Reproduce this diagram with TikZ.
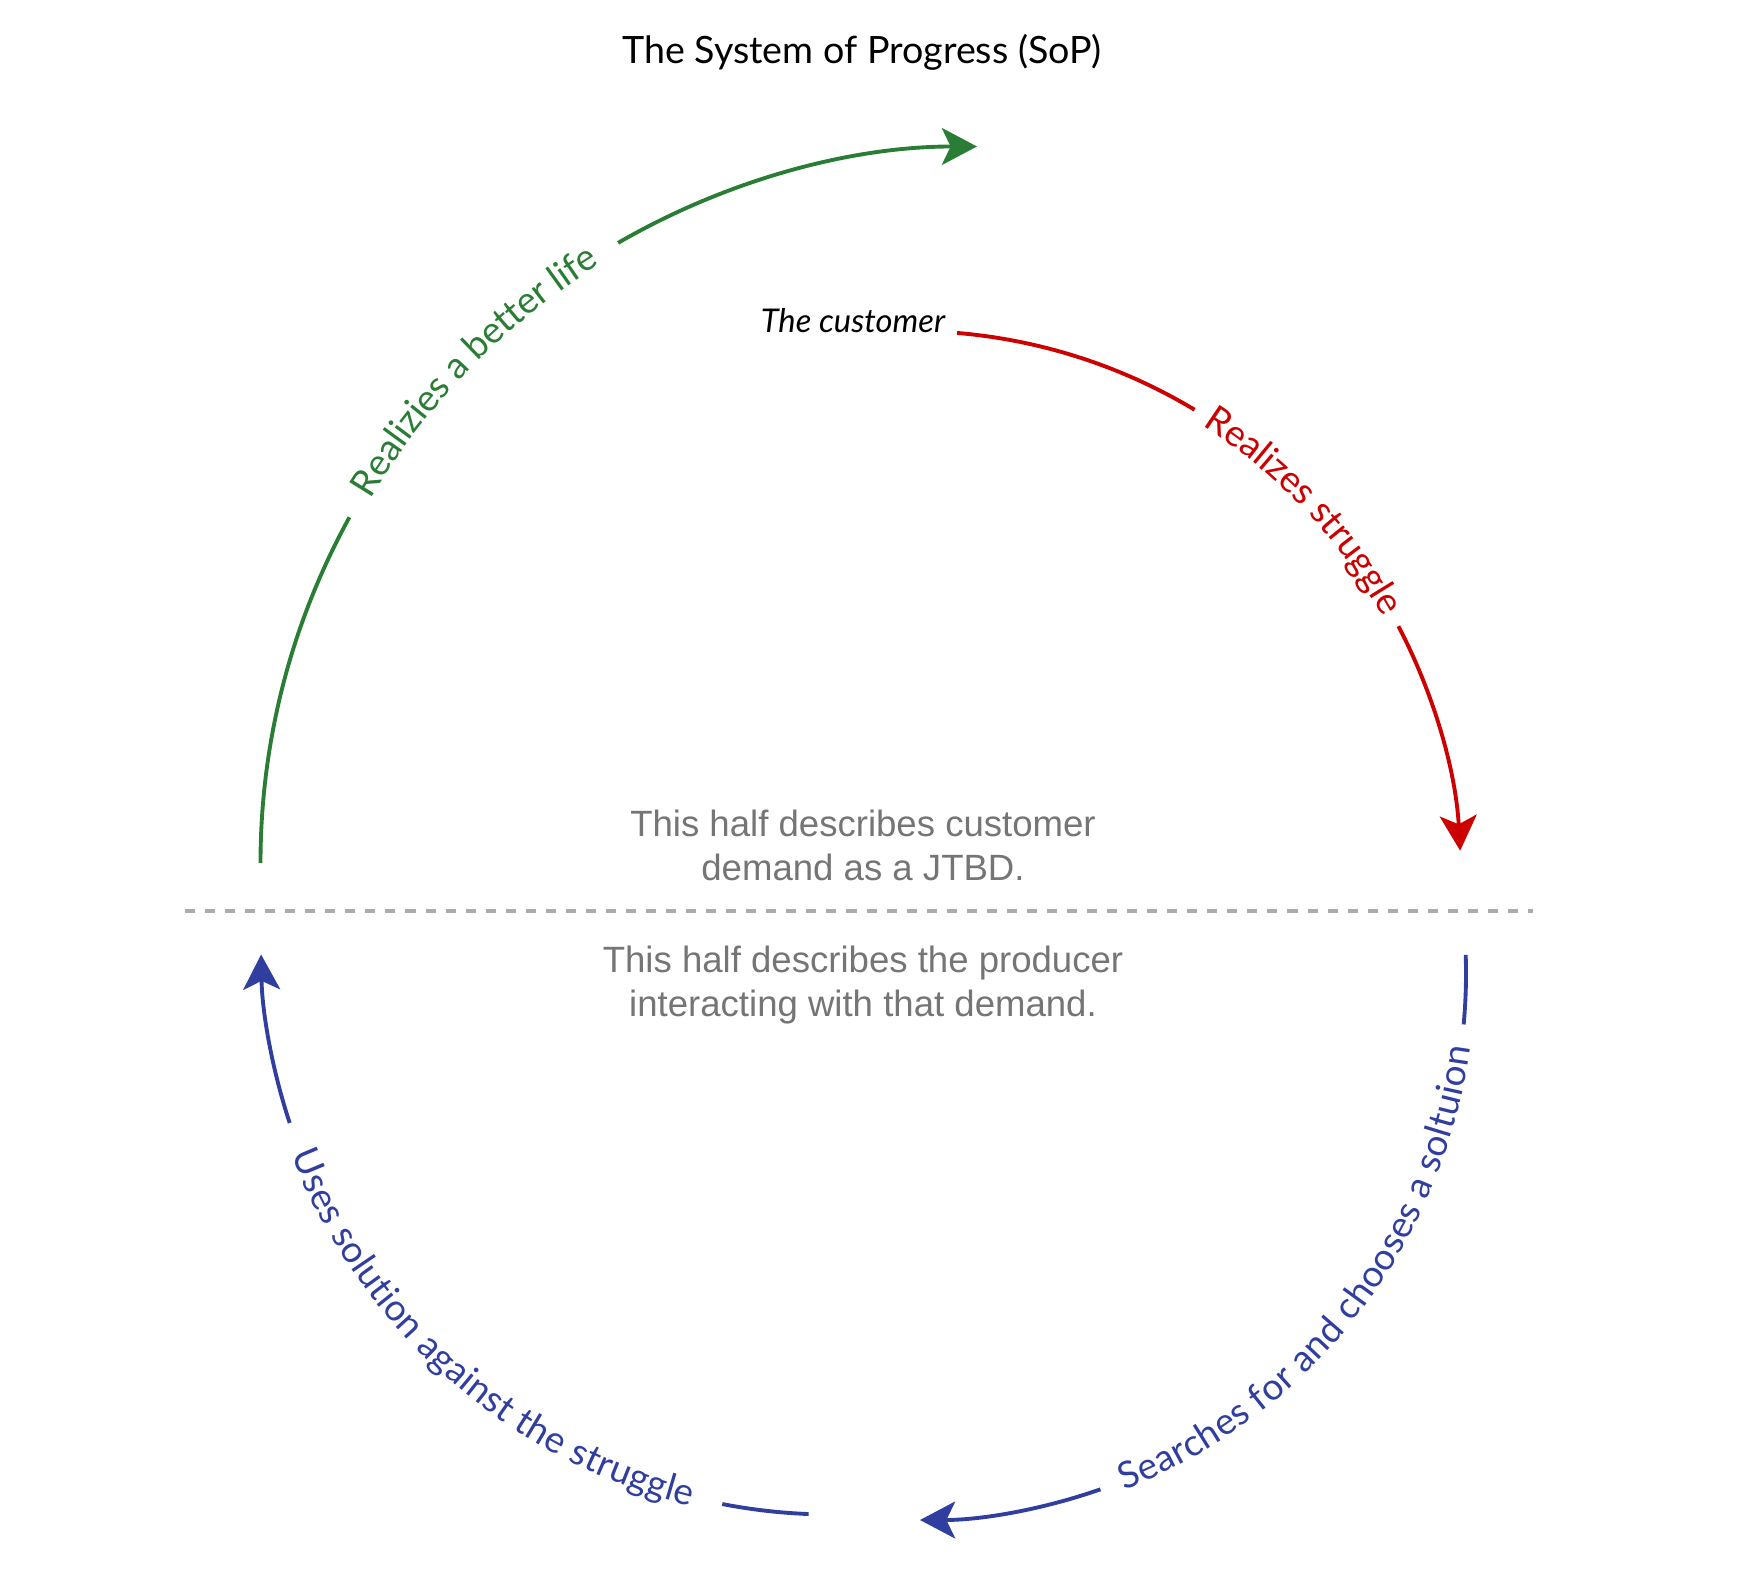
\documentclass[tikz,border=0pt]{standalone}
\usepackage{fontspec}
\setmainfont{Lato}
\newfontfamily\notefont{Liberation Sans}
\usetikzlibrary{arrows.meta}
\usetikzlibrary{calc}
\usetikzlibrary{decorations.text}

\definecolor{sopgreen}{RGB}{42,125,52}
\definecolor{sopred}{RGB}{204,0,0}
\definecolor{sopblue}{RGB}{48,63,159}
\definecolor{sopgrey}{RGB}{117,117,117}
\newcommand{\lblsize}{\fontsize{10.5}{12.6}\selectfont}

\begin{document}
\begin{tikzpicture}[x=0.01cm, y=0.01cm, line width=1.1pt,
			tip/.style={-{Stealth[length=10pt, width=10.5pt, inset=2.5pt]}},
			lbl/.style 2 args={decorate, decoration={text along path, text align=center,
							raise=-2.6pt, text color=#1, text={|\lblsize|#2}}},
			note/.style={font=\notefont\fontsize{10.4}{12.5}\selectfont, text=sopgrey,
							align=center, inner sep=0pt}]

		\useasboundingbox (0,0) rectangle (1761,1569);

		\node[font=\fontsize{10.7}{13}\selectfont, anchor=base] (title) at (862,1505)
			{The System of Progress (SoP)};
		\node[font=\itshape\fontsize{9.3}{11}\selectfont, anchor=base east, inner sep=0pt]
			(cust) at (947,1236) {The customer};

		\coordinate (gc) at (977,706);
		\coordinate (rc) at (911,688);
		\coordinate (bc) at (920,595);
		\coordinate (uc) at (831,624.5);

		% customer half
		\coordinate (r1) at ($(rc)+(85.2:550)$);
		\coordinate (r2) at ($(rc)+(58.96:550)$);
		\coordinate (r3) at ($(rc)+(27.6:550)$);
		\draw[sopred] (r1) arc[start angle=85.2, end angle=58.96, radius=550];
		\path[lbl={sopred}{Realizes struggle}] (r2) arc[start angle=58.96, end angle=27.6, radius=550];
		\draw[sopred, tip] (r3) arc[start angle=27.6, end angle=3.16, radius=550];

		\coordinate (g1) at ($(gc)+(180:716.5)$);
		\coordinate (g2) at ($(gc)+(151.15:716.5)$);
		\coordinate (g3) at ($(gc)+(120.06:716.5)$);
		\draw[sopgreen] (g1) arc[start angle=180, end angle=151.15, radius=716.5];
		\path[lbl={sopgreen}{Realizies a better life}] (g2) arc[start angle=151.15, end angle=120.06, radius=716.5];
		\draw[sopgreen, tip] (g3) arc[start angle=120.06, end angle=90, radius=716.5];

		% producer half
		\coordinate (b1) at ($(bc)+(2:546)$);
		\coordinate (b2) at ($(bc)+(-70.7:546)$);
		\draw[sopblue] (b1) arc[start angle=2, end angle=-5.3, radius=546];
		\path[lbl={sopblue}{Searches for and chooses a soltuion}] (b2) arc[start angle=-70.7, end angle=-5.3, radius=546];
		\draw[sopblue, tip] (b2) arc[start angle=-70.7, end angle=-90, radius=546];

		\coordinate (u1) at ($(uc)+(267.75:570)$);
		\coordinate (u2) at ($(uc)+(198.25:570)$);
		\draw[sopblue] (u1) arc[start angle=267.75, end angle=259, radius=570];
		\path[lbl={sopblue}{Uses solution against the struggle}] (u2) arc[start angle=198.25, end angle=259, radius=570];
		\draw[sopblue, tip] (u2) arc[start angle=198.25, end angle=181, radius=570];

		\coordinate (dl) at (185,658);
		\coordinate (dr) at (1533,658);
		\draw[black!33, dash pattern=on 2.85pt off 2.85pt] (dl) -- (dr);

		\node[note] (demand) at (863,724) {This half describes customer\\demand as a JTBD.};
		\node[note] (producer) at (863,584) {This half describes the producer\\interacting with that demand.};
	\end{tikzpicture}
\end{document}
